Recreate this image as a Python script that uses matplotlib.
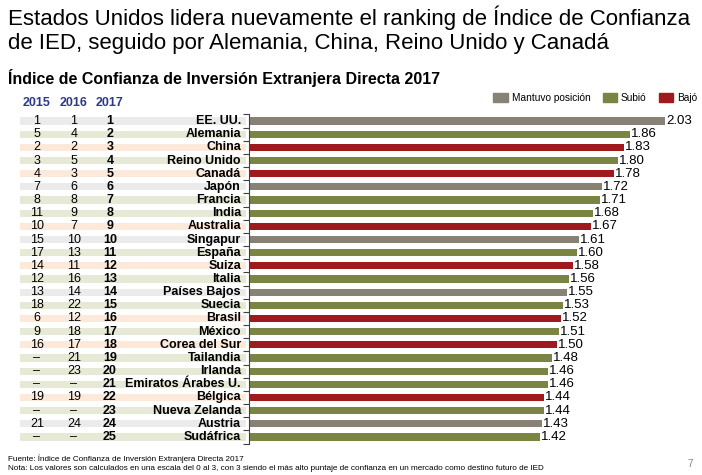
import numpy as np
import matplotlib
matplotlib.use("Agg")
import matplotlib.pyplot as plt
from matplotlib.patches import Patch

plt.rcParams["font.family"] = ["Liberation Sans", "DejaVu Sans"]

# datos
paises = ["EE. UU.", "Alemania", "China", "Reino Unido", "Canadá", "Japón", "Francia",
          "India", "Australia", "Singapur", "España", "Suiza", "Italia", "Países Bajos",
          "Suecia", "Brasil", "México", "Corea del Sur", "Tailandia", "Irlanda",
          "Emiratos Árabes U.", "Bélgica", "Nueva Zelanda", "Austria", "Sudáfrica"]
rank_2015 = ["1", "5", "2", "3", "4", "7", "8", "11", "10", "15", "17", "14", "12", "13",
             "18", "6", "9", "16", "–", "–", "–", "19", "–", "21", "–"]
rank_2016 = ["1", "4", "2", "5", "3", "6", "8", "9", "7", "10", "13", "11", "16", "14",
             "22", "12", "18", "17", "21", "23", "–", "19", "–", "24", "–"]
rank_2017 = [str(i) for i in range(1, 26)]
valores = [2.03, 1.86, 1.83, 1.80, 1.78, 1.72, 1.71, 1.68, 1.67, 1.61, 1.60, 1.58, 1.56,
           1.55, 1.53, 1.52, 1.51, 1.50, 1.48, 1.46, 1.46, 1.44, 1.44, 1.43, 1.42]
estado = ["M", "S", "B", "S", "B", "M", "S", "S", "B", "M", "S", "B", "S", "M",
          "S", "B", "S", "B", "S", "S", "S", "B", "S", "M", "S"]

etiquetas = {"M": "Mantuvo posición", "S": "Subió", "B": "Bajó"}
color_barra = {"M": "#878273", "S": "#7A8443", "B": "#9E1A1D"}
color_fondo = {"M": "#EBEBEB", "S": "#E5E9D6", "B": "#FCE9DA"}

W, H = 702, 475
fig = plt.figure(figsize=(W / 100, H / 100), dpi=100)

y_top, y_bot = 114.5, 443.5
x_axis = 249
ax_bottom = (H - y_bot) / H
ax_height = (y_bot - y_top) / H

ax_t = fig.add_axes([0, ax_bottom, x_axis / W, ax_height])
ax = fig.add_axes([x_axis / W, ax_bottom, (W - x_axis) / W, ax_height], sharey=ax_t)

y = np.arange(len(paises))

# tabla de la izquierda
ax_t.set_xlim(0, x_axis)
ax_t.barh(y, 226, left=20, height=0.55,
          color=[color_fondo[e] for e in estado])
for i in y:
    ax_t.text(37, i, rank_2015[i], ha="center", va="center", fontsize=9)
    ax_t.text(74, i, rank_2016[i], ha="center", va="center", fontsize=9)
    ax_t.text(110, i, rank_2017[i], ha="center", va="center", fontsize=9, fontweight="bold")
    ax_t.text(241, i, paises[i], ha="right", va="center", fontsize=9, fontweight="bold")
ax_t.axis("off")

# barras
ax.barh(y, valores, height=0.55, color=[color_barra[e] for e in estado])
for i, v in zip(y, valores):
    ax.text(v + 0.005, i, f"{v:.2f}", ha="left", va="center", fontsize=9.5)
ax.set_xlim(0, (W - x_axis) / 205)
ax.set_ylim(len(paises) - 0.5, -0.5)
ax.set_yticks(np.arange(-0.5, len(paises), 1))
ax.set_yticklabels([])
ax.tick_params(axis="y", length=4, width=0.8, color="#404040", direction="out")
ax.set_xticks([])
for s in ["top", "right", "bottom"]:
    ax.spines[s].set_visible(False)
ax.spines["left"].set_color("#404040")
ax.spines["left"].set_linewidth(0.8)
ax.patch.set_alpha(0)

# encabezados de años
for x, t in [(37, "2015"), (74, "2016"), (110, "2017")]:
    fig.text(x / W, 1 - 103 / H, t, ha="center", va="center", fontsize=9,
             fontweight="bold", color="#2E3A87")

# leyenda
handles = [Patch(color=color_barra[k], label=etiquetas[k]) for k in ["M", "S", "B"]]
fig.legend(handles=handles, loc="center right", bbox_to_anchor=(697 / W, 1 - 98 / H),
           ncol=3, frameon=False, fontsize=7.3, handlelength=1.4, handleheight=0.9,
           handletextpad=0.4, columnspacing=1.2, borderaxespad=0, borderpad=0)

# títulos
fig.text(8 / W, 1 - 18 / H, "Estados Unidos lidera nuevamente el ranking de Índice de Confianza",
         ha="left", va="center", fontsize=16)
fig.text(8 / W, 1 - 43 / H, "de IED, seguido por Alemania, China, Reino Unido y Canadá",
         ha="left", va="center", fontsize=16)
fig.text(8 / W, 1 - 78 / H, "Índice de Confianza de Inversión Extranjera Directa 2017",
         ha="left", va="center", fontsize=11.5, fontweight="bold")

# notas
fig.text(8 / W, 1 - 459 / H, "Fuente: Índice de Confianza de Inversión Extranjera Directa 2017",
         ha="left", va="center", fontsize=5.9)
fig.text(8 / W, 1 - 468 / H,
         "Nota: Los valores son calculados en una escala del 0 al 3, con 3 siendo el más alto "
         "puntaje de confianza en un mercado como destino futuro de IED",
         ha="left", va="center", fontsize=5.9)
fig.text(690 / W, 1 - 464 / H, "7", ha="center", va="center", fontsize=7, color="#808080")

fig.savefig("out.png", dpi=100)
